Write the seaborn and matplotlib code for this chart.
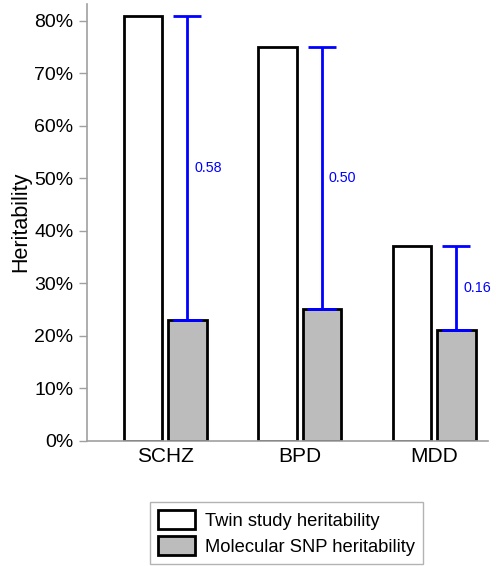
import matplotlib
matplotlib.use("Agg")
import matplotlib.pyplot as plt
import seaborn as sns
import pandas as pd
from matplotlib.ticker import FuncFormatter, MultipleLocator

categories = ["SCHZ", "BPD", "MDD"]
twin_values = [81, 75, 37]
snp_values = [23, 25, 21]
series_names = ["Twin study heritability", "Molecular SNP heritability"]
gap_labels = ["0.58", "0.50", "0.16"]

sns.set_theme(style="white")
plt.rcParams['font.family'] = ['Liberation Sans', 'DejaVu Sans']
plt.rcParams['text.color'] = 'black'
plt.rcParams['axes.labelcolor'] = 'black'
plt.rcParams['xtick.color'] = 'black'
plt.rcParams['ytick.color'] = 'black'

df = pd.DataFrame({
    "Disorder": categories * 2,
    "Series": [series_names[0]] * 3 + [series_names[1]] * 3,
    "Value": twin_values + snp_values,
})

fig = plt.figure(figsize=(4.96, 5.66), dpi=100)
ax = fig.add_axes([0.1748, 0.2217, 0.984 - 0.1748, 0.993 - 0.2217])

sns.barplot(data=df, x="Disorder", y="Value", hue="Series",
            palette=["white", "#bcbcbc"], edgecolor="black", linewidth=2,
            width=0.66, gap=0.13, ax=ax, legend=True)

# error bars from SNP to twin heritability on the SNP bars
snp_patches = [p for p in ax.patches if p.get_height() > 0][3:6]
for p, lo, hi, lab in zip(snp_patches, snp_values, twin_values, gap_labels):
    xc = p.get_x() + p.get_width() / 2
    ax.errorbar([xc], [lo], yerr=[[0], [hi - lo]], fmt="none", ecolor="#0000ff",
                elinewidth=2, capsize=10, capthick=2)
    ax.plot([xc - 0.1, xc + 0.1], [lo, lo], color="#0000ff", lw=2)
    ax.text(xc + 0.05, (lo + hi) / 2, lab, color="#0000ff", fontsize=10.3,
            ha="left", va="center")

ax.set_xlim(-0.584, 2.40)
ax.set_ylim(0, 83.2)
ax.yaxis.set_major_locator(MultipleLocator(10))
ax.yaxis.set_major_formatter(FuncFormatter(lambda v, _: f"{int(round(v))}%"))
ax.set_xlabel("")
ax.set_ylabel("Heritability", fontsize=15.5, labelpad=2)
ax.tick_params(axis="y", which="major", direction="out", length=6, width=1,
               color="#a0a0a0", labelcolor="black", labelsize=14, pad=3.5, left=True)
ax.tick_params(axis="x", length=0, labelsize=15, labelcolor="black", pad=5)
for s in ["top", "right"]:
    ax.spines[s].set_visible(False)
for s in ["left", "bottom"]:
    ax.spines[s].set_color("#a0a0a0")
    ax.spines[s].set_linewidth(1.2)

leg = ax.legend(loc="upper left", bbox_to_anchor=(150 / 496, 1 - 502 / 566),
                bbox_transform=fig.transFigure, fontsize=13.2, frameon=True,
                fancybox=False, edgecolor="#a0a0a0", handlelength=2.0,
                handleheight=1.2, handletextpad=0.55, borderpad=0.45,
                labelspacing=0.35, borderaxespad=0)
leg.get_frame().set_linewidth(1)

fig.savefig("out.png", dpi=100)
